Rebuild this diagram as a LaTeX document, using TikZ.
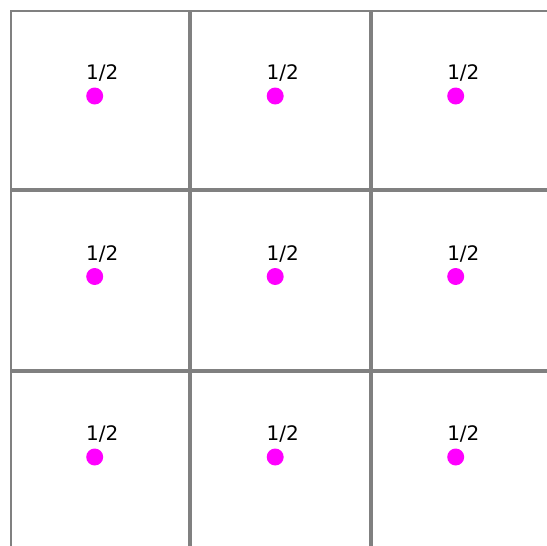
\documentclass[tikz,border=0pt]{standalone}
\usepackage{fontspec}
\setmainfont{DejaVu Sans}
\usetikzlibrary{positioning}
\definecolor{GridGray}{HTML}{808080}
\definecolor{DotMagenta}{HTML}{FF00FF}

\begin{document}
\begin{tikzpicture}[x=1pt,y=-1pt,
  cell/.style={draw=GridGray,line width=2pt,minimum width=178.5pt,minimum height=178.5pt,inner sep=0,anchor=north west},
  dot/.style={circle,fill=DotMagenta,minimum size=17pt,inner sep=0},
  lbl/.style={anchor=base west,inner sep=0,font=\fontsize{20}{22}\selectfont}]
  \useasboundingbox (0,0) rectangle (547,546);
  \clip (0,0) rectangle (547,546);
  \foreach \r in {0,1,2} {
    \foreach \c in {0,1,2} {
      \node[cell] (cell-\r-\c) at ({9.5+180.5*\c},{9.5+180.5*\r}) {};
      \node[dot] (dot-\r-\c) at ({94.7+180.5*\c},{96+180.5*\r}) {};
      \node[lbl] (lbl-\r-\c) at ([xshift=-2.5pt,yshift=10pt]dot-\r-\c.north west) {1/2};
    }
  }
\end{tikzpicture}
\end{document}
